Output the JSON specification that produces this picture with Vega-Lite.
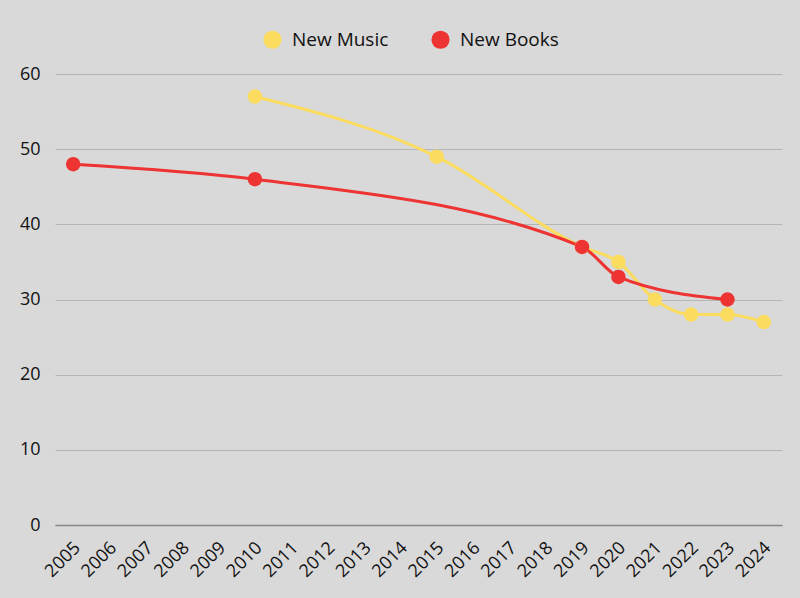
{
  "$schema": "https://vega.github.io/schema/vega-lite/v6.json",
  "width": 727, "height": 451,
  "autosize": "none",
  "padding": {"left": 55, "top": 74, "right": 18, "bottom": 73},
  "background": "#d9d9d9",
  "config": {
    "view": {"stroke": null},
    "font": "Open Sans"
  },
  "data": {
    "values": [
      {"Year": "2010", "Series": "New Music", "Value": 57},
      {"Year": "2015", "Series": "New Music", "Value": 49},
      {"Year": "2019", "Series": "New Music", "Value": 37},
      {"Year": "2020", "Series": "New Music", "Value": 35},
      {"Year": "2021", "Series": "New Music", "Value": 30},
      {"Year": "2022", "Series": "New Music", "Value": 28},
      {"Year": "2023", "Series": "New Music", "Value": 28},
      {"Year": "2024", "Series": "New Music", "Value": 27},
      {"Year": "2005", "Series": "New Books", "Value": 48},
      {"Year": "2010", "Series": "New Books", "Value": 46},
      {"Year": "2019", "Series": "New Books", "Value": 37},
      {"Year": "2020", "Series": "New Books", "Value": 33},
      {"Year": "2023", "Series": "New Books", "Value": 30}
    ]
  },
  "mark": {
    "type": "line",
    "interpolate": "monotone",
    "strokeWidth": 3,
    "point": {"size": 210, "filled": true, "opacity": 1}
  },
  "encoding": {
    "x": {
      "field": "Year", "type": "ordinal",
      "scale": {"domain": ["2005","2006","2007","2008","2009","2010","2011","2012","2013","2014","2015","2016","2017","2018","2019","2020","2021","2022","2023","2024"], "type": "point", "padding": 0.5},
      "axis": {
        "title": null, "labelAngle": -45, "labelAlign": "right", "labelBaseline": "middle",
        "labelFontSize": 18, "labelColor": "#111", "ticks": false, "labelPadding": 20, "labelOffset": 4,
        "domainColor": "#888", "domainWidth": 1.5
      }
    },
    "y": {
      "field": "Value", "type": "quantitative",
      "scale": {"domain": [0, 60]},
      "axis": {
        "title": null, "values": [0, 10, 20, 30, 40, 50, 60], "domain": false, "ticks": false,
        "labelFontSize": 18, "labelColor": "#111", "labelPadding": 15,
        "gridColor": "#b5b5b5", "gridWidth": 1
      }
    },
    "color": {
      "field": "Series", "type": "nominal",
      "scale": {"domain": ["New Music", "New Books"], "range": ["#fbdc5e", "#ee3333"]},
      "legend": {
        "title": null, "orient": "none", "direction": "horizontal",
        "legendX": 208, "legendY": -44,
        "symbolType": "circle", "symbolSize": 330, "symbolStrokeWidth": 0,
        "labelFontSize": 19, "labelColor": "#111", "labelOffset": 10, "columnPadding": 42
      }
    }
  }
}
